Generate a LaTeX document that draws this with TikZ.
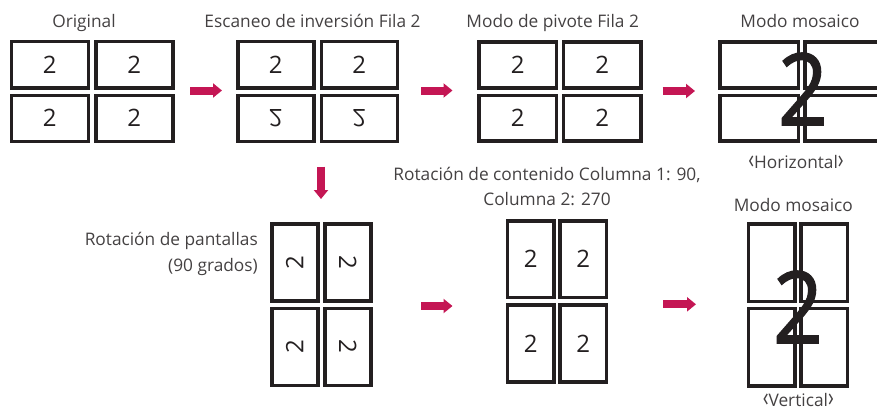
\documentclass[tikz,border=0pt]{standalone}
\usepackage{fontspec}
\usepackage{graphicx}
\setmainfont{Open Sans}
\newfontfamily\bigdigitfont[FakeBold=1.2]{Open Sans}
\usetikzlibrary{arrows.meta}
\definecolor{lgred}{RGB}{196,22,84}
\definecolor{ink}{RGB}{35,31,32}
\newcommand\lab{\scalebox{1.1}[1.55]{‹}}
\newcommand\rab{\scalebox{1.1}[1.55]{›}}
\newcommand\mkgrid[7]{%
  \node[cell,minimum width={#4-3.5},minimum height={#5-3.5}] (#1-11) at ({#2+#4/2},{#3+#5/2}) {};
  \node[cell,minimum width={#4-3.5},minimum height={#5-3.5}] (#1-12) at ({#2+#4+#6+#4/2},{#3+#5/2}) {};
  \node[cell,minimum width={#4-3.5},minimum height={#5-3.5}] (#1-21) at ({#2+#4/2},{#3+#5+#7+#5/2}) {};
  \node[cell,minimum width={#4-3.5},minimum height={#5-3.5}] (#1-22) at ({#2+#4+#6+#4/2},{#3+#5+#7+#5/2}) {};
}
\tikzset{
  cell/.style={draw=ink,line width=3.5pt,inner sep=0pt,outer sep=0pt,fill=white},
  digit/.style={inner sep=0pt,font=\fontsize{24}{24}\selectfont,text=ink},
  bigdigit/.style={inner sep=0pt,font=\bigdigitfont\fontsize{100}{100}\selectfont,text=ink,xscale=0.88},
  title/.style={inner sep=0pt,anchor=base,font=\fontsize{17.3}{20}\selectfont,text=ink!85},
  bigarrow/.style={draw=lgred,line width=8pt,-{Triangle[length=9pt,width=14pt]}},
}
\begin{document}
\begin{tikzpicture}[x=1pt,y=-1pt]
\clip (0,0) rectangle (877,412);
\useasboundingbox (0,0) rectangle (877,412);
% grids
\mkgrid{ga}{9.5}{40}{80.5}{49.5}{4}{4}
\mkgrid{gb}{236}{40}{79.5}{49.5}{4}{4}
\mkgrid{gc}{477.3}{40.5}{81}{49}{3.4}{4}
\mkgrid{gd}{718.3}{40.5}{81.7}{49}{3.3}{4}
\mkgrid{ge}{270}{222}{49.5}{80.5}{3.5}{4}
\mkgrid{gf}{505.7}{219}{50}{80.3}{2.6}{4}
\mkgrid{gg}{746.7}{222.3}{50}{81}{2.6}{3.4}
% digits
\node[digit] (da11) at (ga-11) {2};
\node[digit] (da12) at (ga-12) {2};
\node[digit] (da21) at (ga-21) {2};
\node[digit] (da22) at (ga-22) {2};
\node[digit] (db11) at (gb-11) {2};
\node[digit] (db12) at (gb-12) {2};
\node[digit,yscale=-1] (db21) at (gb-21) {2};
\node[digit,yscale=-1] (db22) at (gb-22) {2};
\node[digit] (dc11) at (gc-11) {2};
\node[digit] (dc12) at (gc-12) {2};
\node[digit] (dc21) at (gc-21) {2};
\node[digit] (dc22) at (gc-22) {2};
\node[digit,rotate=90] (de11) at (ge-11) {2};
\node[digit,rotate=-90] (de12) at (ge-12) {2};
\node[digit,rotate=90] (de21) at (ge-21) {2};
\node[digit,rotate=-90] (de22) at (ge-22) {2};
\node[digit] (df11) at (gf-11) {2};
\node[digit] (df12) at (gf-12) {2};
\node[digit] (df21) at (gf-21) {2};
\node[digit] (df22) at (gf-22) {2};
\node[bigdigit] (dd) at (803,89) {2};
\node[bigdigit] (dg) at (798,307) {2};
% titles
\node[title] (t1) at (84,28) {Original};
\node[title] (t2) at (312.5,28) {Escaneo de inversión Fila 2};
\node[title] (t3) at (552.7,28) {Modo de pivote Fila 2};
\node[title] (t4) at (800,28) {Modo mosaico};
\node[title] (t5) at (796,168) {\lab Horizontal\rab};
\node[title] (t6) at (547,180) {Rotación de contenido Columna 1: 90,};
\node[title] (t7) at (547,205) {Columna 2: 270};
\node[title] (t8) at (793.3,211.5) {Modo mosaico};
\node[title] (t9) at (798.3,406.5) {\lab Vertical\rab};
\node[title,anchor=base east] (t10) at (258,245) {Rotación de pantallas};
\node[title,anchor=base east] (t11) at (258,271) {(90 grados)};
% arrows
\coordinate (a1s) at (190,90.5); \coordinate (a1e) at (222,90.5);
\coordinate (a2s) at (421,90.5); \coordinate (a2e) at (452.5,90.5);
\coordinate (a3s) at (662.7,91); \coordinate (a3e) at (695,91);
\coordinate (a4s) at (321,166.7); \coordinate (a4e) at (321,199);
\coordinate (a5s) at (421,306); \coordinate (a5e) at (452.5,306);
\coordinate (a6s) at (663.3,304.3); \coordinate (a6e) at (696,304.3);
\draw[bigarrow] (a1s) -- (a1e);
\draw[bigarrow] (a2s) -- (a2e);
\draw[bigarrow] (a3s) -- (a3e);
\draw[bigarrow] (a4s) -- (a4e);
\draw[bigarrow] (a5s) -- (a5e);
\draw[bigarrow] (a6s) -- (a6e);
\end{tikzpicture}
\end{document}
